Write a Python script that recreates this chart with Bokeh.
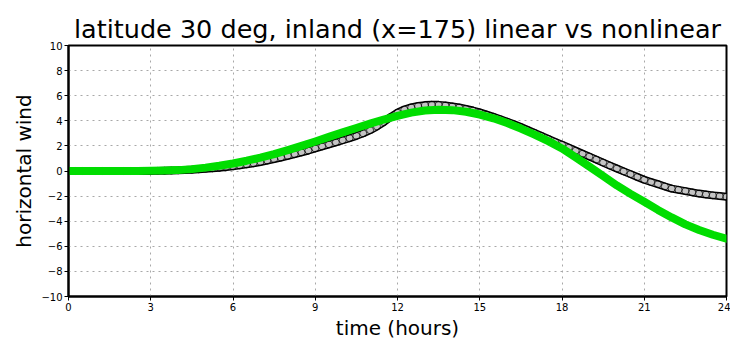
import numpy as np
from bokeh.plotting import figure
from bokeh.models import Range1d, FixedTicker
from bokeh.embed import file_html
from bokeh.resources import INLINE

# sampling times (hours)
time_q = np.arange(0, 24.001, 0.25)   # 97 samples for the circle series
time_h = np.arange(0, 24.001, 0.5)    # 49 samples for the green series

linear_wind = [
    0, 0, 0, 0, 0, 0, 0, 0, 0, 0, 0, 0,
    0.0, 0.01, 0.02, 0.03, 0.05, 0.07, 0.10, 0.13, 0.17, 0.21, 0.26, 0.32,
    0.38, 0.45, 0.53, 0.62, 0.72, 0.83, 0.95, 1.07, 1.20, 1.34, 1.48, 1.63,
    1.80, 1.96, 2.12, 2.28, 2.45, 2.62, 2.80, 3.00, 3.25, 3.55, 3.90, 4.30,
    4.65, 4.90, 5.07, 5.18, 5.25, 5.28, 5.27, 5.22, 5.15, 5.06, 4.95, 4.82,
    4.67, 4.50, 4.32, 4.13, 3.93, 3.72, 3.50, 3.27, 3.04, 2.80, 2.56, 2.32,
    2.10, 1.86, 1.62, 1.38, 1.15, 0.91, 0.67, 0.43, 0.20, -0.03, -0.25, -0.48,
    -0.70, -0.88, -1.05, -1.23, -1.40, -1.50, -1.60, -1.70, -1.80, -1.87, -1.94, -2.00,
    -2.05,
]

nonlinear_wind = [
    0, 0, 0, 0, 0, 0, 0.01, 0.03, 0.07, 0.15, 0.27, 0.42,
    0.60, 0.82, 1.07, 1.35, 1.67, 2.00, 2.35, 2.72, 3.08, 3.43, 3.77, 4.10,
    4.40, 4.65, 4.82, 4.88, 4.85, 4.72, 4.50, 4.20, 3.82, 3.38, 2.90, 2.38,
    1.80, 1.08, 0.35, -0.40, -1.15, -1.82, -2.45, -3.10, -3.70, -4.25, -4.70, -5.08,
    -5.40,
]

x_ticks = [0, 3, 6, 9, 12, 15, 18, 21, 24]
y_ticks = [-10, -8, -6, -4, -2, 0, 2, 4, 6, 8, 10]

FONT = "DejaVu Sans"

p = figure(
    frame_width=658, frame_height=251,
    x_range=Range1d(0, 24), y_range=Range1d(-10, 10),
    output_backend="svg", toolbar_location=None,
    min_border_left=68, min_border_right=4, min_border_top=45, min_border_bottom=40,
    title="latitude 30 deg, inland (x=175) linear vs nonlinear",
)
p.title.align = "center"
p.title.text_font = FONT
p.title.text_font_style = "normal"
p.title.text_font_size = "25.5px"
p.title.text_color = "black"
p.title.standoff = 4
p.title.offset = 0

p.outline_line_color = "black"
p.outline_line_width = 2
p.background_fill_color = "white"
p.border_fill_color = "white"

for ax in (p.xaxis, p.yaxis):
    ax.axis_line_color = "black"
    ax.axis_line_width = 2
    ax.major_tick_in = 0
    ax.major_tick_out = 4
    ax.minor_tick_line_color = None
    ax.major_tick_line_color = "black"
    ax.major_label_text_font = FONT
    ax.major_label_text_font_size = "10px"
    ax.major_label_text_color = "black"
    ax.axis_label_text_font = FONT
    ax.axis_label_text_font_size = "20px"
    ax.axis_label_text_font_style = "normal"
    ax.axis_label_text_color = "black"

p.xaxis.ticker = FixedTicker(ticks=x_ticks)
p.yaxis.ticker = FixedTicker(ticks=y_ticks)
p.xaxis.axis_label = "time (hours)"
p.yaxis.axis_label = "horizontal wind"
p.xaxis.major_label_standoff = 2
p.yaxis.major_label_standoff = 2
p.xaxis.axis_label_standoff = 2
p.yaxis.axis_label_standoff = 2

for g in (p.xgrid, p.ygrid):
    g.grid_line_color = "#a8a8a8"
    g.grid_line_dash = "2 4"
    g.grid_line_width = 1
p.xgrid.ticker = FixedTicker(ticks=x_ticks)
p.ygrid.ticker = FixedTicker(ticks=y_ticks)

# band look of densely packed open circles
p.line(time_q, linear_wind, line_color="black", line_width=8, line_join="round")
p.line(time_q, linear_wind, line_color="#c4c4c4", line_width=5, line_join="round")
p.scatter(time_q, linear_wind, marker="circle", size=7, fill_color=None,
          line_color="black", line_width=1, line_alpha=0.7)
p.line(time_h, nonlinear_wind, line_color="#00dd00", line_width=8,
       line_join="round", line_cap="round")

open("out.html", "w").write(file_html(p, INLINE))
